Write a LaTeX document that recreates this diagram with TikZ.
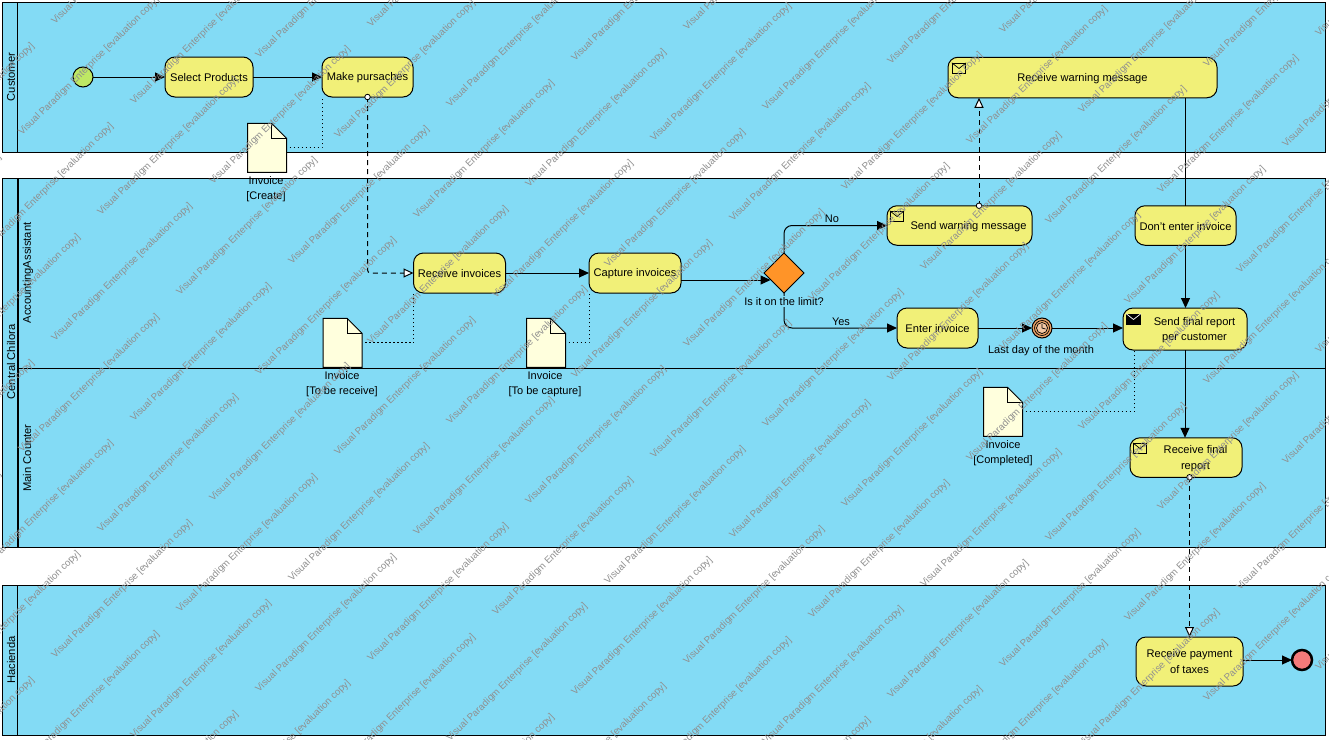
\documentclass[tikz,border=0pt]{standalone}
\usepackage{fontspec}
\setmainfont{Liberation Sans}
\usetikzlibrary{arrows.meta}
\definecolor{poolblue}{RGB}{131,219,245}
\definecolor{taskyel}{RGB}{241,240,120}
\definecolor{docyel}{RGB}{255,255,221}
\definecolor{startgr}{RGB}{190,232,100}
\definecolor{endred}{RGB}{244,122,122}
\definecolor{gateor}{RGB}{255,148,40}
\definecolor{timeror}{RGB}{236,164,104}
\tikzset{
  pool/.style={draw=black,fill=poolblue,line width=1pt},
  lane/.style={font=\fontsize{11.2}{14}\selectfont,rotate=90,inner sep=0pt},
  taskbox/.style={draw=black,fill=taskyel,line width=1pt,rounded corners=10pt,inner sep=0pt,outer sep=0pt,align=center,font=\fontsize{11.1}{15}\selectfont},
  docbox/.style={minimum width=39pt,minimum height=49pt,inner sep=0pt,outer sep=0pt},
  lbl/.style={font=\fontsize{11}{15}\selectfont,inner sep=1pt,align=center},
  flow/.style={line width=1pt,-{Triangle[length=10pt,width=9pt]}},
  msg/.style={line width=1pt,dash pattern=on 5pt off 4pt,-{Triangle[open,fill=white,length=10pt,width=9pt]}},
  assoc/.style={line width=1pt,dash pattern=on 1.5pt off 2.5pt},
  plain/.style={line width=1pt},
  portc/.style={circle,draw=black,fill=white,line width=.8pt,minimum size=5.5pt,inner sep=0pt},
  wm/.style={anchor=base west,rotate=44.5,inner sep=0pt,text=black!44,font=\fontsize{9.7}{11}\selectfont},
}
\newcommand{\tx}[1]{\raisebox{-1pt}[\height][\depth]{#1}}
\newcommand{\twolines}[2]{\begin{tabular}{@{}c@{}}#1\\[.5pt]#2\end{tabular}}
\newcommand{\docshape}[2]{% name, center
  \node[docbox] (#1) at (#2) {};
  \draw[fill=docyel,line width=1pt] (#1.north west) -- ([xshift=-15pt]#1.north east) -- ([yshift=-15pt]#1.north east) -- (#1.south east) -- (#1.south west) -- cycle;
  \draw[line width=1pt] ([xshift=-15pt]#1.north east) -- ([xshift=-15pt,yshift=-15pt]#1.north east) -- ([yshift=-15pt]#1.north east);
}
\newcommand{\envelope}[4]{% name, center, fill, flap colour
  \node[draw=black,fill=#3,line width=.9pt,minimum width=13.5pt,minimum height=10.5pt,inner sep=0pt] (#1) at (#2) {};
  \draw[line width=.7pt,draw=#4] (#1.north west) -- (#1.center) -- (#1.north east);
}
\begin{document}
\begin{tikzpicture}[x=1pt,y=-1pt]
\useasboundingbox (0,0) rectangle (1329,739);
\fill[white] (0,0) rectangle (1329,739);
% pools
\path[pool] (2.5,2.5) rectangle (1325,152);
\draw[line width=1pt] (17.5,2.5) -- (17.5,152);
\path[pool] (2.5,178.5) rectangle (1325,547);
\draw[line width=1pt] (18,368.5) -- (1325,368.5);
\draw[line width=2pt] (18,178.5) -- (18,547);
\path[pool] (2.5,585) rectangle (1325,735.5);
\draw[line width=1pt] (17.5,585) -- (17.5,735.5);
\node[lane] (lCust) at (11,77) {Customer};
\node[lane] (lCent) at (11,362) {Central Chilora};
\node[lane] (lAcc) at (28,273) {AccountingAssistant};
\node[lane] (lMain) at (27,458) {Main Counter};
\node[lane] (lHac) at (11,660) {Hacienda};
% nodes
\node[circle,draw=black,fill=startgr,line width=1pt,minimum size=20pt,inner sep=0pt,outer sep=0pt] (start) at (83,77) {};
\node[taskbox,minimum width=88pt,minimum height=40pt] (sel) at (209,77) {\tx{Select Products}};
\node[taskbox,minimum width=91pt,minimum height=40pt] (make) at (367.5,77) {\tx{Make pursaches}};
\node[taskbox,minimum width=269pt,minimum height=40.5pt] (rw) at (1082.5,77.5) {\tx{Receive warning message}};
\node[taskbox,minimum width=92pt,minimum height=40pt] (rinv) at (459.5,273) {\tx{Receive invoices}};
\node[taskbox,minimum width=92pt,minimum height=40pt] (cap) at (635,273) {\tx{Capture invoices}};
\node[taskbox,minimum width=145pt,minimum height=39.5pt] (sw) at (959.5,225.5) {\hspace*{18pt}\tx{Send warning message}};
\node[taskbox,minimum width=81pt,minimum height=40pt] (ent) at (937.5,328) {\tx{Enter invoice}};
\node[taskbox,minimum width=101pt,minimum height=39.5pt] (dont) at (1185.5,225.5) {\tx{Don't enter invoice}};
\node[taskbox,minimum width=124pt,minimum height=42pt] (sf) at (1185,329) {\hspace*{19pt}\tx{\twolines{Send final report}{per customer}}};
\node[taskbox,minimum width=112pt,minimum height=39.5pt] (rf) at (1186,457.5) {\hspace*{19pt}\tx{\twolines{Receive final}{report}}};
\node[taskbox,minimum width=107pt,minimum height=49pt] (pay) at (1189.5,661.5) {\tx{\twolines{Receive payment}{of taxes}}};
\node[circle,draw=black,fill=endred,line width=2.5pt,minimum size=20pt,inner sep=0pt,outer sep=0pt] (stop) at (1302,660) {};
\node[circle,draw=black,fill=timeror,line width=1pt,minimum size=20pt,inner sep=0pt,outer sep=0pt] (tim) at (1042,328) {};
\node[draw=black,fill=gateor,line width=1pt,inner sep=0pt,outer sep=0pt,minimum size=28.3pt,rotate=45] (dia) at (784,273) {};
\coordinate (diaT) at (784,253);
\coordinate (diaB) at (784,293);
\coordinate (diaL) at (770.5,280);
% connectors
\draw[flow] (start) -- (sel);
\draw[flow] (sel) -- (make);
\draw[flow] (rinv) -- (cap);
\draw[flow] ([yshift=-7pt]cap.east) -- (diaL);
\draw[flow,rounded corners=8pt] (diaT) |- (sw.west);
\draw[flow,rounded corners=8pt] (diaB) |- (ent.west);
\draw[flow] (ent) -- (tim);
\draw[flow] (tim) -- (tim -| sf.west);
\draw[plain] (dont.north |- rw.south) -- (dont.north);
\draw[flow] (dont.south) -- (dont.south |- sf.north);
\draw[flow] (sf.south) -- (sf.south |- rf.north);
\draw[flow] (pay.east |- stop) -- (stop);
\draw[msg,rounded corners=3pt] (make.south) |- (rinv.west);
\draw[msg] ([xshift=19.5pt]sw.north) -- ([xshift=19.5pt]sw.north |- rw.south);
\draw[msg] (pay.north |- rf.south) -- (pay.north);
% documents
\docshape{dA}{267,147.75}
\docshape{dB}{342.5,342.75}
\docshape{dC}{546,342.75}
\docshape{dD}{1003,411.75}
\draw[assoc] ([xshift=3pt]dA.east) -| (make.south west);
\draw[assoc] ([xshift=3pt]dB.east) -| (rinv.south west);
\draw[assoc] ([xshift=3pt]dC.east) -| (cap.south west);
\draw[assoc] ([xshift=3pt]dD.east) -| ([xshift=-51pt]sf.south);
% ports
\node[portc] (p1) at (make.south) {};
\node[portc] (p2) at ([xshift=19.5pt]sw.north) {};
\node[portc] (p3) at (pay.north |- rf.south) {};
% timer detail
\node[circle,draw=black,line width=.7pt,minimum size=15pt,inner sep=0pt] (timi) at (tim) {};
\node[circle,draw=black,fill=timeror!60!white,line width=.7pt,minimum size=11pt,inner sep=0pt] (timc) at (tim) {};
\draw[line width=.7pt] (tim.center) -- ++(0,-4) (tim.center) -- ++(3.5,1);
% envelopes
\envelope{e1}{897,216.5}{taskyel}{black}
\envelope{e2}{959,68.5}{taskyel}{black}
\envelope{e3}{1133.5,319.5}{black}{white}
\envelope{e4}{1140,448.5}{taskyel}{black}
% labels
\node[lbl] (tA) at (266,189.5) {Invoice\\{[}Create{]}};
\node[lbl] (tB) at (342,384.5) {Invoice\\{[}To be receive{]}};
\node[lbl] (tC) at (545,384.5) {Invoice\\{[}To be capture{]}};
\node[lbl] (tD) at (1003,453.5) {Invoice\\{[}Completed{]}};
\node[lbl,fill=poolblue] (tG) at (784,301.5) {Is it on the limit?};
\node[lbl] (tT) at (1041,350.5) {Last day of the month};
\node[lbl] (tN) at (832,218.5) {No};
\node[lbl] (tY) at (841,321.5) {Yes};
% watermark
\foreach \i in {-3,...,7}{
  \foreach \j in {-3,...,9}{
    \foreach \k/\dx/\dy in {a/0/0,b/112/-31}{
      \pgfmathsetmacro{\xa}{22+\i*237+\j*79+\dx}
      \pgfmathsetmacro{\ya}{136-\i*77+\j*80+\dy}
      \pgfmathparse{and(and(\xa>-146,\xa<1329),and(\ya>0,\ya<880))}
      \ifnum\pgfmathresult>0
        \node[wm] (w\k\i\j) at (\xa,\ya) {Visual Paradigm Enterprise [evaluation copy]};
      \fi
    }
  }
}
\end{tikzpicture}
\end{document}
